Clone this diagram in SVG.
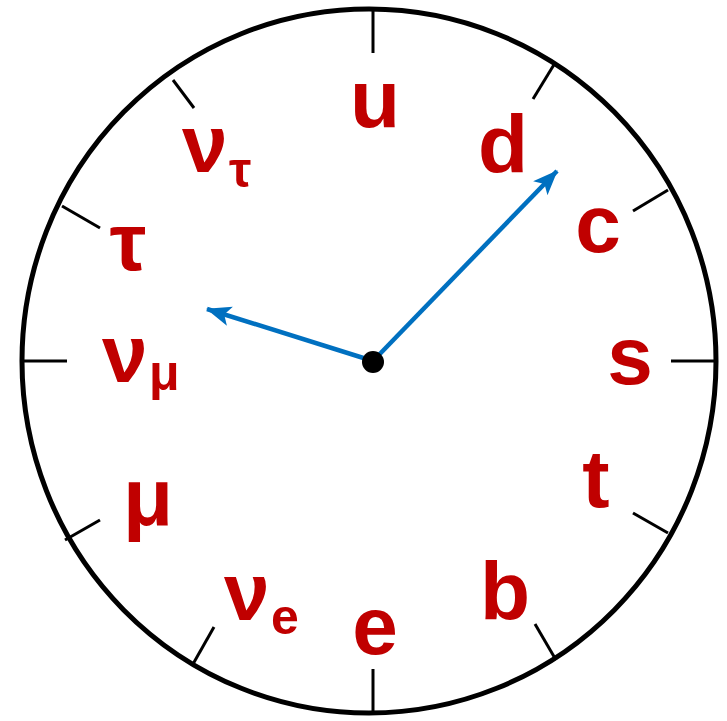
<svg xmlns="http://www.w3.org/2000/svg" width="727" height="721" viewBox="0 0 727 721">
<style>
.lbl{font-family:"Liberation Sans",Arial,sans-serif;font-weight:bold;fill:#c00000;font-size:82px}
.sub{font-size:50px}
.tick{stroke:#000;stroke-width:3}
.hand{stroke:#0070c0;stroke-width:4.5;fill:none}
</style>
<defs>
<marker id="ah" markerUnits="userSpaceOnUse" markerWidth="26" markerHeight="22" refX="24" refY="11" orient="auto" viewBox="0 0 26 22">
<path d="M0,1 L25,11 L0,21 L6,11 Z" fill="#0070c0"/>
</marker>
</defs>
<g id="face">
<ellipse cx="369" cy="361" rx="347" ry="352" fill="#fff" stroke="#000" stroke-width="5"/>
</g>
<g id="ticks">
<line class="tick" x1="373" y1="9" x2="373" y2="53"/>
<line class="tick" x1="555" y1="63" x2="533" y2="99"/>
<line class="tick" x1="668" y1="190" x2="633" y2="211"/>
<line class="tick" x1="716" y1="361" x2="671" y2="361"/>
<line class="tick" x1="668" y1="533" x2="633" y2="513"/>
<line class="tick" x1="556" y1="660" x2="535" y2="624"/>
<line class="tick" x1="373" y1="713" x2="373" y2="669"/>
<line class="tick" x1="193" y1="664" x2="214" y2="627"/>
<line class="tick" x1="65" y1="540" x2="100" y2="520"/>
<line class="tick" x1="22" y1="361" x2="67" y2="361"/>
<line class="tick" x1="62" y1="206" x2="100" y2="228"/>
<line class="tick" x1="173" y1="80" x2="194" y2="108"/>
</g>
<g id="labels">
<g id="u"><text class="lbl" x="375" y="127" text-anchor="middle">u</text></g>
<g id="d"><text class="lbl" x="503" y="172" text-anchor="middle">d</text></g>
<g id="c"><text class="lbl" x="598" y="252" text-anchor="middle">c</text></g>
<g id="s"><text class="lbl" x="630" y="384" text-anchor="middle">s</text></g>
<g id="t"><text class="lbl" x="596" y="507" text-anchor="middle">t</text></g>
<g id="b"><text class="lbl" x="505" y="619" text-anchor="middle">b</text></g>
<g id="e"><text class="lbl" x="375" y="654" text-anchor="middle">e</text></g>
<g id="nu_e"><text class="lbl" x="224" y="620">ν</text><text class="lbl sub" x="271" y="634">e</text></g>
<g id="mu"><text class="lbl" x="148" y="525" text-anchor="middle">μ</text></g>
<g id="nu_mu"><text class="lbl" x="102" y="382">ν</text><text class="lbl sub" x="149" y="390">μ</text></g>
<g id="tau"><text class="lbl" x="128" y="270" text-anchor="middle">τ</text></g>
<g id="nu_tau"><text class="lbl" x="182" y="172">ν</text><text class="lbl sub" x="229" y="187">τ</text></g>
</g>
<g id="connectors">
<line class="hand" x1="373" y1="361" x2="557" y2="171" marker-end="url(#ah)"/>
<line class="hand" x1="373" y1="361" x2="207" y2="309" marker-end="url(#ah)"/>
</g>
<g id="hub"><circle cx="373" cy="362" r="11" fill="#000"/></g>
</svg>
